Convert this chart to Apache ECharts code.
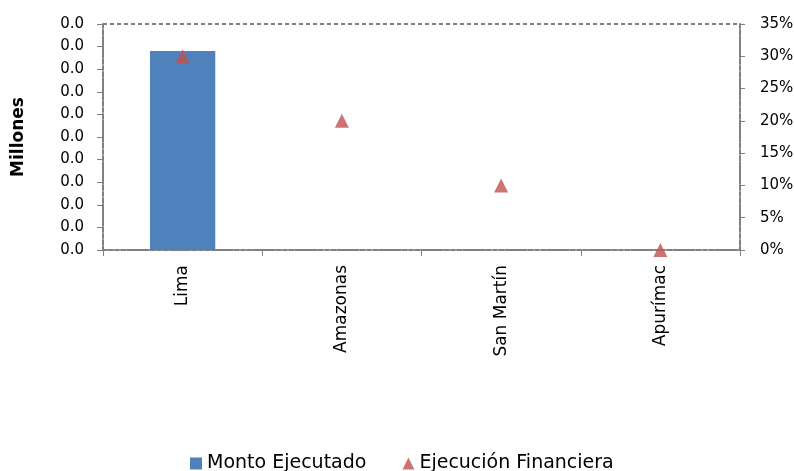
<!DOCTYPE html>
<html>
<head>
<meta charset="utf-8">
<script src="https://cdn.jsdelivr.net/npm/echarts@6/dist/echarts.min.js"></script>
<style>html,body{margin:0;padding:0;background:#fff}#c{width:794px;height:471px}</style>
</head>
<body>
<div id="c"></div>
<script>
const categories = ['Lima', 'Amazonas', 'San Martín', 'Apurímac'];
const montoEjecutado = [0.0088, 0, 0, 0];
const ejecucionFinanciera = [0.30, 0.20, 0.10, 0.00];
const leftTicks = { min: 0, max: 0.01, interval: 0.001 };
const rightTicks = { min: 0, max: 0.35, interval: 0.05 };

const FONT = 'DejaVu Sans';
const chart = echarts.init(document.getElementById('c'));
const axisGrey = { color: '#808080', type: [4, 2], width: 2 };
chart.setOption({
  animation: false,
  grid: { left: 103, right: 54, top: 24, bottom: 221, outerBoundsMode: 'none', containLabel: false,
          show: true, borderColor: '#000', borderWidth: 1, borderType: [4, 3] },
  legend: {
    top: 449, left: 185, itemGap: 36, itemWidth: 12, itemHeight: 12, itemTextGap: 7,
    textStyle: { fontFamily: FONT, fontSize: 19, color: '#000' },
    data: [{ name: 'Monto Ejecutado', icon: 'rect' }, { name: 'Ejecución Financiera', icon: 'triangle' }]
  },
  xAxis: {
    type: 'category', data: categories,
    axisLine: { lineStyle: axisGrey },
    axisTick: { show: true, length: 6, lineStyle: { color: '#808080' } },
    axisLabel: { rotate: 90, fontFamily: FONT, fontSize: 17, color: '#000', margin: 15 }
  },
  yAxis: [
    {
      type: 'value', min: leftTicks.min, max: leftTicks.max, interval: leftTicks.interval,
      name: 'Millones', nameLocation: 'middle', nameGap: 76, nameRotate: 90,
      nameTextStyle: { fontFamily: FONT, fontWeight: 'bold', fontSize: 17, color: '#000' },
      axisLine: { show: true, lineStyle: axisGrey },
      axisTick: { show: true, length: 6, lineStyle: { color: '#808080' } },
      splitLine: { show: false },
      axisLabel: { formatter: v => v.toFixed(1), fontFamily: FONT, fontSize: 15, color: '#000', margin: 19 }
    },
    {
      type: 'value', min: rightTicks.min, max: rightTicks.max, interval: rightTicks.interval, position: 'right',
      axisLine: { show: true, lineStyle: axisGrey },
      axisTick: { show: true, length: 5, lineStyle: { color: '#808080' } },
      splitLine: { show: false },
      axisLabel: { formatter: v => Math.round(v * 100) + '%', fontFamily: FONT, fontSize: 15, color: '#000', margin: 20 }
    }
  ],
  series: [
    {
      name: 'Monto Ejecutado', type: 'bar', data: montoEjecutado, barWidth: '41%',
      itemStyle: { color: '#4F81BD' }
    },
    {
      name: 'Ejecución Financiera', type: 'scatter', yAxisIndex: 1, data: ejecucionFinanciera,
      symbol: 'triangle', symbolSize: 14, clip: false,
      itemStyle: { color: '#C0504D' }
    }
  ]
});
</script>
</body>
</html>
